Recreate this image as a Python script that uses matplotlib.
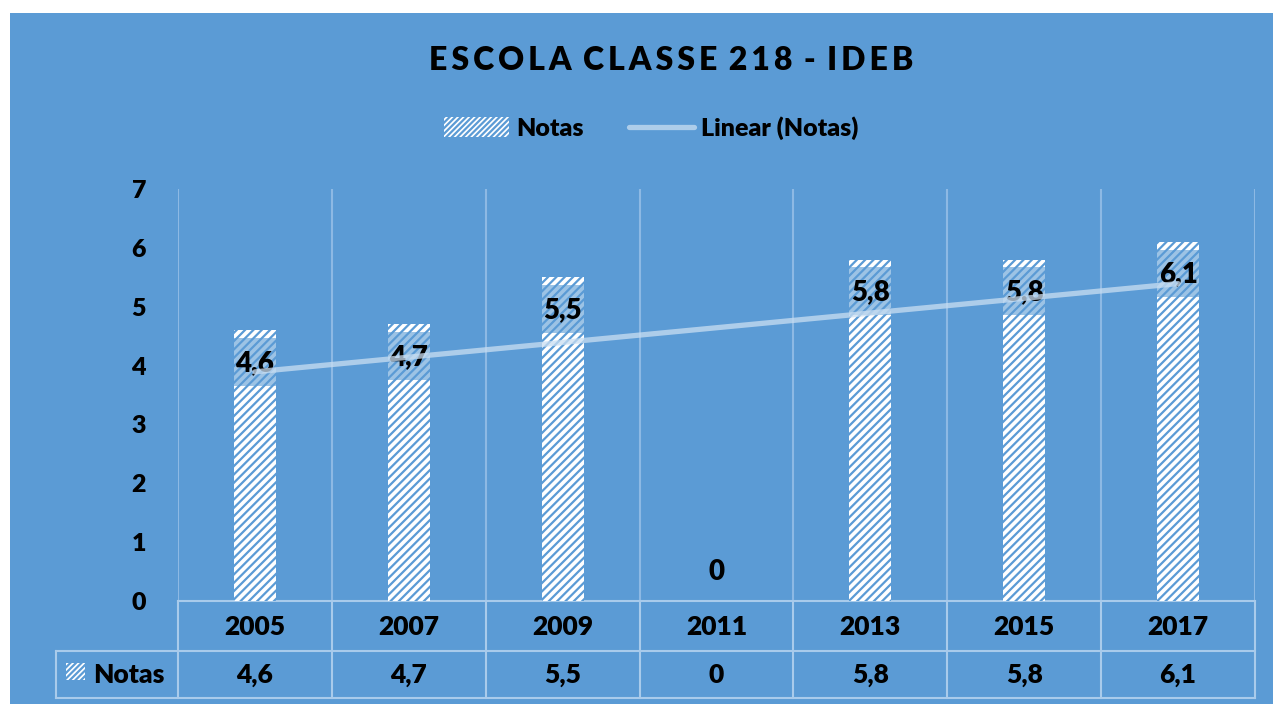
import matplotlib.pyplot as plt
import numpy as np
from matplotlib.patches import Rectangle
from matplotlib.lines import Line2D

years = ["2005", "2007", "2009", "2011", "2013", "2015", "2017"]
notas = [4.6, 4.7, 5.5, 0, 5.8, 5.8, 6.1]
labels = ["4,6", "4,7", "5,5", "0", "5,8", "5,8", "6,1"]

bg = "#5B9BD5"
grid_c = "#8DB9E4"
table_c = "#A9CBEB"
trend_c = "#C9DEF2"
W = "heavy"

plt.rcParams["font.family"] = ["Lato", "DejaVu Sans"]
plt.rcParams["font.weight"] = W
plt.rcParams["hatch.linewidth"] = 1.6

fig = plt.figure(figsize=(12.73, 7.04), dpi=100)
fig.patch.set_facecolor("white")
fig.add_artist(Rectangle((10 / 1273, 0), 1, 1 - 13 / 704, transform=fig.transFigure,
                         facecolor=bg, edgecolor="none", zorder=-5))

ax = fig.add_axes([178 / 1273, 1 - 601 / 704, (1255 - 178) / 1273, (601 - 189) / 704])
ax.set_zorder(2)
ax.set_facecolor("none")
x = np.arange(1, len(years) + 1)

bw = 0.273
bars = ax.bar(x, notas, width=bw, color="white", edgecolor=bg, linewidth=0,
              hatch="////", zorder=2, label="Notas")

# label boxes + labels
for xi, v, t in zip(x, notas, labels):
    if v > 0:
        ax.add_patch(Rectangle((xi - bw / 2, v - 0.94), bw, 0.81, facecolor=bg,
                               alpha=0.6, edgecolor="none", zorder=3))
        ax.text(xi, v - 0.55, t, ha="center", va="center", fontsize=20,
                fontweight=W, color="black", zorder=4)
    else:
        ax.text(xi, 0.5, t, ha="center", va="center", fontsize=20,
                fontweight=W, color="black", zorder=4)

# linear trend
m, b = np.polyfit(x, notas, 1)
ax.plot(x, m * x + b, color=trend_c, lw=3.8, alpha=0.75, solid_capstyle="round",
        zorder=5)

ax.set_xlim(0.5, 7.5)
ax.set_ylim(0, 7)
ax.set_yticks(range(0, 8))
ax.tick_params(axis="y", length=0, pad=23, labelsize=18)
ax.set_xticks([])
for lbl in ax.get_yticklabels():
    lbl.set_fontweight(W)
for s in ax.spines.values():
    s.set_visible(False)

# vertical gridlines at category borders
for bx in np.arange(0.5, 8, 1):
    ax.axvline(bx, color=grid_c, lw=1.5, zorder=1)

# data table
tr = ax.get_xaxis_transform()
r1 = -50 / 412
r2 = -97 / 412
left = 0.5 - 122 / 153.86
kw = dict(transform=tr, clip_on=False, color=table_c, lw=1.5, zorder=1)
ax.plot([0.5, 7.5], [0, 0], **kw)
ax.plot([left, 7.5], [r1, r1], **kw)
ax.plot([left, 7.5], [r2, r2], **kw)
for bx in np.arange(0.5, 8, 1):
    ax.plot([bx, bx], [0, r2], **kw)
ax.plot([left, left], [r1, r2], **kw)

for xi, yr, t in zip(x, years, labels):
    ax.text(xi, -26 / 412, yr, transform=tr, ha="center", va="center",
            fontsize=19, fontweight=W, clip_on=False)
    ax.text(xi, -74 / 412, t, transform=tr, ha="center", va="center",
            fontsize=19, fontweight=W, clip_on=False)

sq = 0.5 - 112 / 153.86
ax.add_patch(Rectangle((sq, -79 / 412), 19 / 153.86, 17 / 412, transform=tr,
                       facecolor="white", edgecolor=bg, linewidth=0, hatch="//////",
                       clip_on=False, zorder=2))
ax.text(0.5 - 85 / 153.86, -74 / 412, "Notas", transform=tr, ha="left",
        va="center", fontsize=19, fontweight=W, clip_on=False)

# title (letter-spaced)
title = "ESCOLA CLASSE 218 - IDEB"
spaced = " \u2009".join("\u2009".join(w) for w in title.split(" "))
fig.text(671 / 1273, 1 - 61 / 704, spaced, ha="center", va="center",
         fontsize=23, fontweight=W)

# legend
handles = [Rectangle((0, 0), 1, 1, facecolor="white", edgecolor=bg, linewidth=0, hatch="//////"),
           Line2D([0], [0], color=trend_c, lw=3.8, alpha=0.75, solid_capstyle="round")]
fig.legend(handles, ["Notas", "Linear (Notas)"], loc="center",
           bbox_to_anchor=(651 / 1273, 1 - 128 / 704), ncol=2, frameon=False,
           prop={"size": 18, "weight": W}, handlelength=2.6, handletextpad=0.3,
           columnspacing=1.8, handleheight=0.8)

fig.savefig("out.png", dpi=100, facecolor=fig.get_facecolor())
